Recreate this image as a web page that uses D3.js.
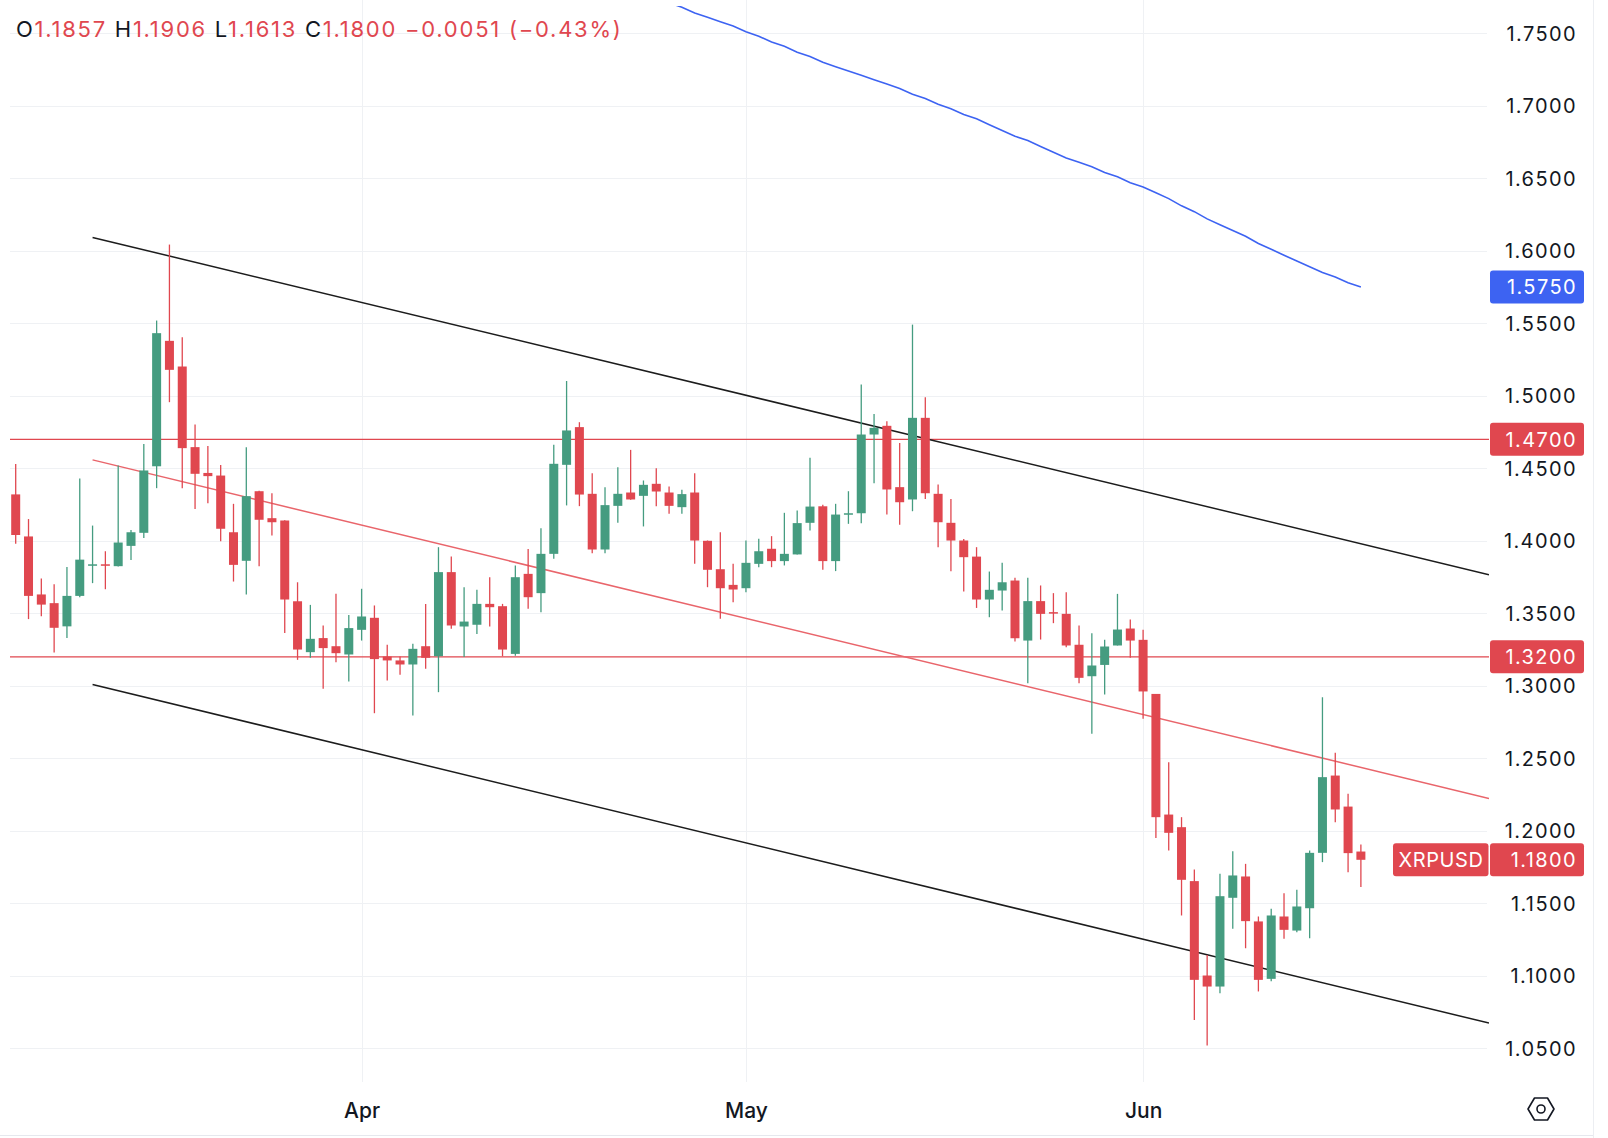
<!DOCTYPE html>
<html><head><meta charset="utf-8">
<script src="https://cdn.jsdelivr.net/npm/d3@7"></script>
<style>
html,body{margin:0;padding:0;background:#fff;}
svg{display:block;font-family:Inter,"Noto Sans",sans-serif;}
</style></head><body>
<svg id="c" width="1608" height="1138"></svg>
<script>
// ---------- DATA ----------
const symbol = "XRPUSD";
const startDate = "2025-03-05";
const opens = [1.432,1.403,1.363,1.357,1.341,1.362,1.3834,1.3838,1.3825,1.3965,
1.4055,1.4514,1.5379,1.5202,1.4646,1.4468,1.4450,1.4059,1.3862,1.4342,
1.4156,1.4140,1.3583,1.3232,1.3329,1.3273,1.3216,1.3386,1.3469,1.3202,
1.3175,1.3147,1.3273,1.3204,1.3784,1.3409,1.3421,1.3565,1.3549,1.3220,
1.3772,1.3639,1.3910,1.4524,1.4784,1.4324,1.3940,1.4241,1.4333,1.4310,
1.4393,1.4333,1.4232,1.4333,1.4000,1.3804,1.3696,1.3673,1.3841,1.3945,
1.3860,1.3906,1.4124,1.4238,1.3860,1.4181,1.4190,1.4733,1.4793,1.4370,
1.4285,1.4848,1.4324,1.4124,1.4002,1.3891,1.3595,1.3657,1.3726,1.3312,
1.3584,1.3508,1.3496,1.3283,1.3066,1.3144,1.3278,1.3395,1.3317,1.2944,
1.2112,1.2025,1.1653,1.1002,1.0926,1.1538,1.1685,1.1375,1.0979,1.1409,
1.1312,1.1466,1.1848,1.2381,1.2167,1.1857];
const highs = [1.453,1.415,1.374,1.370,1.382,1.443,1.4105,1.3928,1.4519,1.4075,
1.4668,1.5519,1.6043,1.5404,1.4802,1.4653,1.4522,1.4255,1.4646,1.4345,
1.4328,1.4142,1.3714,1.3558,1.3416,1.3634,1.3489,1.3669,1.3554,1.3283,
1.3202,1.3290,1.3565,1.3956,1.3892,1.3680,1.3662,1.3749,1.3565,1.3829,
1.3944,1.4087,1.4662,1.5102,1.4818,1.4466,1.4370,1.4508,1.4627,1.4416,
1.4501,1.4374,1.4352,1.4466,1.4002,1.4059,1.3841,1.4002,1.4014,1.4032,
1.4193,1.4209,1.4572,1.4248,1.4255,1.4342,1.5078,1.4875,1.4825,1.4675,
1.5491,1.4990,1.4388,1.4289,1.4013,1.3956,1.3788,1.3848,1.3745,1.3745,
1.3692,1.3639,1.3646,1.3416,1.3363,1.3317,1.3634,1.3457,1.3386,1.2944,
1.2473,1.2094,1.1733,1.1144,1.1703,1.1859,1.1772,1.1409,1.1462,1.1570,
1.1593,1.1864,1.2921,1.2538,1.2255,1.1906];
const lows = [1.398,1.346,1.348,1.323,1.333,1.361,1.3708,1.3666,1.3823,1.3868,
1.4020,1.4363,1.4956,1.4363,1.4220,1.4259,1.3997,1.3719,1.3629,1.3825,
1.4036,1.3365,1.3179,1.3193,1.2979,1.3163,1.3030,1.3312,1.2811,1.3037,
1.3076,1.2795,1.3117,1.2956,1.3393,1.3198,1.3358,1.3409,1.3204,1.3207,
1.3531,1.3508,1.3876,1.4244,1.4239,1.3915,1.3915,1.4124,1.4283,1.4099,
1.4239,1.4186,1.4186,1.3841,1.3680,1.3462,1.3577,1.3646,1.3818,1.3818,
1.3830,1.3906,1.4071,1.3800,1.3791,1.4117,1.4121,1.4397,1.4181,1.4110,
1.4204,1.4289,1.3956,1.3790,1.3650,1.3537,1.3473,1.3519,1.3305,1.3018,
1.3319,1.3432,1.3266,1.3018,1.2669,1.2940,1.3278,1.3193,1.2772,1.1951,
1.1864,1.1416,1.0696,1.0519,1.0880,1.1324,1.1190,1.0892,1.0963,1.1255,
1.1301,1.1259,1.1784,1.2059,1.1715,1.1613];
const closes = [1.404,1.362,1.356,1.340,1.362,1.387,1.3838,1.3834,1.3988,1.4059,
1.4485,1.5432,1.5179,1.4639,1.4462,1.4446,1.4083,1.3834,1.4308,1.4145,
1.4128,1.3595,1.3250,1.3324,1.3260,1.3225,1.3398,1.3478,1.3184,1.3175,
1.3147,1.3255,1.3193,1.3784,1.3416,1.3443,1.3565,1.3542,1.3250,1.3749,
1.3611,1.3910,1.4531,1.4761,1.4319,1.3940,1.4246,1.4324,1.4285,1.4386,
1.4340,1.4241,1.4322,1.4002,1.3800,1.3673,1.3664,1.3848,1.3928,1.3860,
1.3910,1.4122,1.4236,1.3860,1.4181,1.4190,1.4733,1.4779,1.4354,1.4266,
1.4848,1.4328,1.4128,1.4002,1.3887,1.3595,1.3662,1.3714,1.3328,1.3584,
1.3496,1.3499,1.3278,1.3055,1.3140,1.3271,1.3388,1.3312,1.2961,1.2094,
1.1986,1.1662,1.0972,1.0926,1.1549,1.1692,1.1377,1.0972,1.1416,1.1317,
1.1478,1.1848,1.2370,1.2147,1.1846,1.1800];
// moving average (blue), starting at candle index maStart (0-based)
const maStart = 49;
const maValues = [1.778,1.775,1.771,1.768,1.764,1.761,1.758,1.755,1.751,1.748,
1.744,1.741,1.737,1.734,1.730,1.727,1.724,1.721,1.718,1.715,
1.712,1.708,1.705,1.701,1.698,1.694,1.691,1.687,1.683,1.679,
1.676,1.672,1.668,1.664,1.661,1.658,1.654,1.651,1.647,1.644,
1.640,1.636,1.631,1.627,1.622,1.618,1.614,1.610,1.605,1.601,
1.597,1.593,1.589,1.585,1.582,1.578,1.575];
const yTicks = [1.05,1.10,1.15,1.20,1.25,1.30,1.35,1.40,1.45,1.50,1.55,1.60,1.65,1.70,1.75];
const hLevels = [1.47, 1.32];
// trend lines: [start day index, start price, end day index, end price]
const upperChannel = [6, 1.6092, 115, 1.3766];
const lowerChannel = [6, 1.3009, 115, 1.0674];
const midLine = [6, 1.4558, 115, 1.2223];
const header = {o:"1.1857", h:"1.1906", l:"1.1613", c:"1.1800", chg:"\u22120.0051 (\u22120.43%)"};

// ---------- LAYOUT ----------
const W = 1608, H = 1138;
const plot = {left:10, right:1489, top:6, bottom:1082};
const UP = "#459c80", DN = "#e0474f", BLUE = "#3d63f2";
const svg = d3.select("#c");
const start = d3.utcParse("%Y-%m-%d")(startDate);
const dates = d3.range(opens.length).map(i => d3.utcDay.offset(start, i));
const dayOf = i => new Date(start.getTime() + i*864e5);

const x = d3.scaleUtc()
  .domain([dayOf(-0.445), dayOf(115)])
  .range([plot.left, plot.right]);
const y = d3.scaleLinear().domain([1.05, 1.75]).range([1048.3, 33.3]);

svg.append("rect").attr("width", W).attr("height", H).attr("fill", "#fff");

// grid
const grid = svg.append("g");
grid.selectAll("line.h").data(yTicks).join("line")
  .attr("x1", plot.left).attr("x2", plot.right - 2)
  .attr("y1", d => Math.round(y(d)) + 0.5).attr("y2", d => Math.round(y(d)) + 0.5)
  .attr("stroke", "#eff1f4").attr("stroke-width", 1);
const monthTicks = x.ticks(d3.utcMonth.every(1)).filter(d => x(d) > plot.left + 20 && x(d) < plot.right - 20);
grid.selectAll("line.v").data(monthTicks).join("line")
  .attr("x1", d => Math.round(x(d)) + 0.5).attr("x2", d => Math.round(x(d)) + 0.5)
  .attr("y1", 0).attr("y2", plot.bottom)
  .attr("stroke", "#eff1f4").attr("stroke-width", 1);

// clip
svg.append("clipPath").attr("id", "clip").append("rect")
  .attr("x", plot.left).attr("y", plot.top)
  .attr("width", plot.right - plot.left).attr("height", plot.bottom - plot.top);
const g = svg.append("g").attr("clip-path", "url(#clip)");

// horizontal level lines
g.selectAll("line.lvl").data(hLevels).join("line")
  .attr("x1", plot.left).attr("x2", plot.right)
  .attr("y1", d => y(d)).attr("y2", d => y(d))
  .attr("stroke", "#e0474f").attr("stroke-width", 1.3);

// trend lines
const trend = (t, color, w) => g.append("line")
  .attr("x1", x(dayOf(t[0]))).attr("y1", y(t[1]))
  .attr("x2", x(dayOf(t[2]))).attr("y2", y(t[3]))
  .attr("stroke", color).attr("stroke-width", w);
trend(upperChannel, "#1c1c1c", 1.5);
trend(lowerChannel, "#1c1c1c", 1.5);
trend(midLine, "#e9656b", 1.5);

// candles
const bw = 9;
const candles = g.selectAll("g.c").data(dates).join("g");
candles.append("line")
  .attr("x1", (d,i) => x(d)).attr("x2", (d,i) => x(d))
  .attr("y1", (d,i) => y(highs[i])).attr("y2", (d,i) => y(lows[i]))
  .attr("stroke", (d,i) => closes[i] >= opens[i] ? UP : DN).attr("stroke-width", 1.3);
candles.append("rect")
  .attr("x", d => x(d) - bw/2).attr("width", bw)
  .attr("y", (d,i) => y(Math.max(opens[i], closes[i])))
  .attr("height", (d,i) => Math.max(1.5, Math.abs(y(opens[i]) - y(closes[i]))))
  .attr("fill", (d,i) => closes[i] >= opens[i] ? UP : DN);

// moving average
g.append("path")
  .datum(maValues)
  .attr("fill", "none").attr("stroke", BLUE).attr("stroke-width", 1.6)
  .attr("d", d3.line().x((d,i) => x(dates[maStart + i])).y(d => y(d)));

// price axis labels
const fmt = d3.format(".4f");
const TFS = 20, TLS = 1.4;
svg.append("g").selectAll("text").data(yTicks).join("text")
  .attr("x", 1577).attr("y", d => y(d)).attr("dy", "0.36em")
  .attr("text-anchor", "end").attr("font-size", TFS).attr("letter-spacing", TLS)
  .attr("fill", "#131722").text(d => fmt(d));

// price tags
const tag = (v, color, txt) => {
  const t = svg.append("g");
  t.append("rect").attr("x", 1490).attr("y", y(v) - 16.5).attr("width", 94).attr("height", 33)
    .attr("rx", 3).attr("fill", color);
  t.append("text").attr("x", 1577).attr("y", y(v)).attr("dy", "0.36em")
    .attr("text-anchor", "end").attr("font-size", TFS).attr("letter-spacing", TLS)
    .attr("fill", "#fff").text(txt);
};
tag(maValues[maValues.length - 1], BLUE, fmt(maValues[maValues.length - 1]));
hLevels.forEach(v => tag(v, DN, fmt(v)));
tag(closes[closes.length - 1], DN, fmt(closes[closes.length - 1]));
// symbol tag
const last = closes[closes.length - 1];
svg.append("rect").attr("x", 1393).attr("y", y(last) - 16.5).attr("width", 95.5).attr("height", 33)
  .attr("rx", 3).attr("fill", DN);
svg.append("text").attr("x", 1441).attr("y", y(last)).attr("dy", "0.36em")
  .attr("text-anchor", "middle").attr("font-size", 20).attr("letter-spacing", 0.6)
  .attr("fill", "#fff").text(symbol);

// time axis
const xAxis = d3.axisBottom(x).tickValues(monthTicks).tickFormat(d3.utcFormat("%b")).tickSize(0);
const ax = svg.append("g").attr("transform", `translate(0,${plot.bottom})`).call(xAxis);
ax.select(".domain").remove();
ax.selectAll("text").attr("y", 28).attr("dy", "0.36em")
  .attr("font-size", 21).attr("font-family", "Inter, sans-serif").attr("font-weight", 500)
  .attr("fill", "#131722");

// borders
svg.append("line").attr("x1", 0).attr("x2", 1593).attr("y1", 1135.5).attr("y2", 1135.5)
  .attr("stroke", "#e6e8ee");
svg.append("line").attr("x1", 1593.5).attr("x2", 1593.5).attr("y1", 0).attr("y2", 1138)
  .attr("stroke", "#eceef2");

// settings icon
const ic = svg.append("g").attr("transform", "translate(1541,1109)")
  .attr("fill", "none").attr("stroke", "#131722").attr("stroke-width", 1.6);
ic.append("path").attr("d", "M-13,0 L-6.5,-11 L6.5,-11 L13,0 L6.5,11 L-6.5,11 Z").attr("stroke-linejoin", "round");
ic.append("circle").attr("r", 4);

// header legend
const ht = svg.append("text").attr("x", 16).attr("y", 29).attr("dy", "0.36em")
  .attr("font-size", 22).attr("letter-spacing", 1.75).attr("style", "white-space:pre");
const parts = [["O","#131722"],[header.o,DN],[" H","#131722"],[header.h,DN],[" L","#131722"],[header.l,DN],
  [" C","#131722"],[header.c,DN],[" " + header.chg, DN]];
parts.forEach(p => ht.append("tspan").attr("fill", p[1]).text(p[0]));
</script>
</body></html>
